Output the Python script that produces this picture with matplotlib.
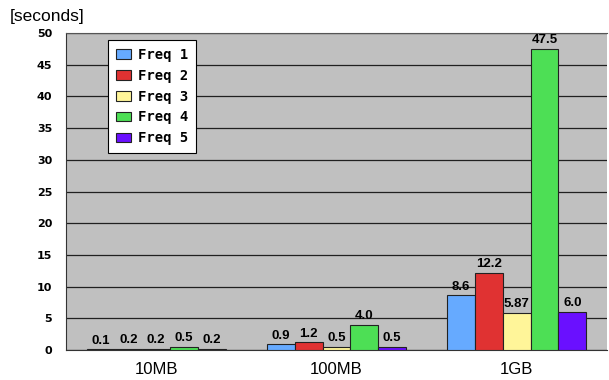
import numpy as np
import matplotlib
matplotlib.use('Agg')
import matplotlib.pyplot as plt

plt.rcParams['font.family'] = ['Liberation Sans', 'DejaVu Sans']

groups = ['10MB', '100MB', '1GB']
series = ['Freq 1', 'Freq 2', 'Freq 3', 'Freq 4', 'Freq 5']
freq1 = [0.1, 0.9, 8.6]
freq2 = [0.2, 1.2, 12.2]
freq3 = [0.2, 0.5, 5.87]
freq4 = [0.5, 4.0, 47.5]
freq5 = [0.2, 0.5, 6.0]
labels1 = ['0.1', '0.9', '8.6']
labels2 = ['0.2', '1.2', '12.2']
labels3 = ['0.2', '0.5', '5.87']
labels4 = ['0.5', '4.0', '47.5']
labels5 = ['0.2', '0.5', '6.0']
colors = ['#66aaff', '#e03232', '#fff599', '#4ddf55', '#6a10ff']

fig = plt.figure(figsize=(6.09, 3.80), dpi=100)
ax = fig.add_axes([66/609, 30/380, 541/609, 317/380])
ax.set_facecolor('#c0c0c0')

x = np.arange(len(groups))
w = 0.154
data = [freq1, freq2, freq3, freq4, freq5]
labs = [labels1, labels2, labels3, labels4, labels5]
for i in range(5):
    b = ax.bar(x + (i - 2) * w, data[i], w, color=colors[i], edgecolor='#222222',
               linewidth=0.8, label=series[i], zorder=3)
    ax.bar_label(b, labels=labs[i], padding=2, fontsize=9.5, fontweight='bold', zorder=4)

ax.set_xlim(-0.5, 2.5)
ax.set_ylim(0, 50)
ax.set_yticks(range(0, 51, 5))
ax.yaxis.grid(True, color='#202020', linewidth=0.9, zorder=0)
ax.set_xticks(x)
ax.set_xticklabels(groups, fontsize=12)
ax.tick_params(axis='x', length=0, pad=9)
ax.tick_params(axis='y', length=0, pad=10)
for t in ax.get_yticklabels():
    t.set_fontweight('bold')
    t.set_fontfamily('DejaVu Sans')
    t.set_fontsize(8)
ax.spines['right'].set_visible(False)
ax.spines['top'].set_color('#555555')
ax.spines['left'].set_color('#333333')
ax.spines['bottom'].set_color('#333333')

# legend box sits inside the plot, top-left
leg = ax.legend(loc='upper left', bbox_to_anchor=(0.078, 0.978),
                prop={'family': 'DejaVu Sans Mono', 'size': 10, 'weight': 'bold'},
                fancybox=False, framealpha=1, edgecolor='black', borderaxespad=0,
                handlelength=1.1, handleheight=0.7, labelspacing=0.5,
                borderpad=0.55, handletextpad=0.5)
leg.get_frame().set_linewidth(0.8)

fig.text(10/609, 1 - 17/380, '[seconds]', fontsize=12.5, va='center', ha='left')

fig.savefig('out.png', dpi=100)
